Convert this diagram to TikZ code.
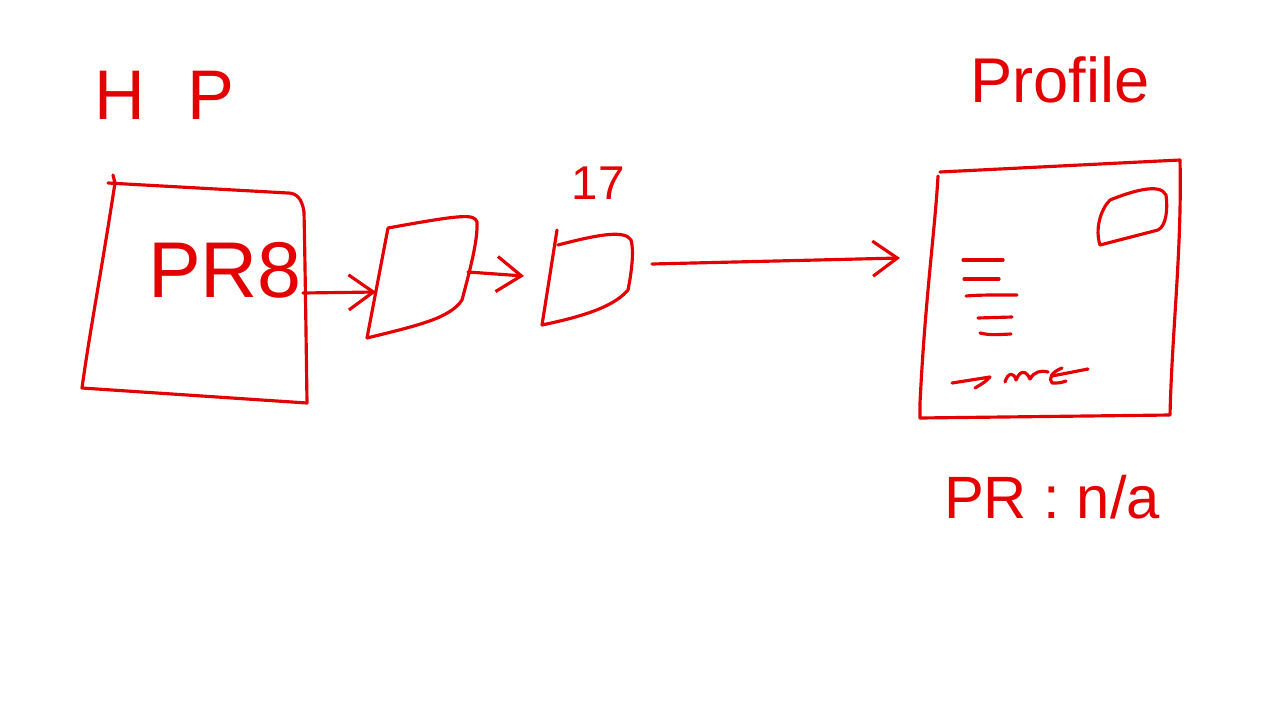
\documentclass[tikz,border=0pt]{standalone}
\usepackage{fontspec}
\setmainfont{Liberation Sans}
\usetikzlibrary{arrows.meta}
\definecolor{ink}{RGB}{228,0,0}
\begin{document}
\begin{tikzpicture}[x=0.02cm, y=-0.02cm,
	pen/.style = {draw=ink, line width=1.8pt, line cap=round, line join=round},
	arr/.style = {pen, -{Straight Barb[length=14pt, width=20pt, line width=1.8pt]}},
	word/.style = {text=ink, inner sep=0pt, font=\fontsize{#1}{#1}\selectfont}]
	\fill[white] (0,0) rectangle (1280,720);
	\useasboundingbox (0,0) rectangle (1280,720);

	% labels
	\node[word=40] (hp) at (164,95) {H\hspace{24pt}P};
	\node[word=45] (pr8) at (225,270) {PR8};
	\node[word=27] (seventeen) at (598,183) {17};
	\node[word=36] (profile) at (1060,80) {Profile};
	\node[word=34] (prna) at (1052,497) {PR : n/a};

	% HP box
	\draw[pen] (113,175) -- (115,183) .. controls (100,280) and (90,330) .. (82,388)
		-- (307,403) .. controls (306,330) and (305,260) .. (304,212)
		.. controls (302,198) and (296,193) .. (288,193) -- (108,183);
	\coordinate (hpE) at (303,293);

	% second box
	\draw[pen] (388,228) -- (367,338) .. controls (420,325) and (450,318) .. (462,300)
		.. controls (470,270) and (478,240) .. (477,222)
		.. controls (474,214) and (465,214) .. (388,228);
	\coordinate (b2W) at (376,292);
	\coordinate (b2E) at (468,272);

	% third box
	\draw[pen] (557,230) -- (542,325) .. controls (590,315) and (615,305) .. (628,290)
		.. controls (632,270) and (634,250) .. (631,240)
		.. controls (625,230) and (600,234) .. (558,245);
	\coordinate (b3W) at (524,276);
	\coordinate (b3E) at (652,264);

	% profile card
	\draw[pen] (940,172) -- (1180,160) .. controls (1182,250) and (1172,330) .. (1170,415)
		-- (920,418) -- (920,403) .. controls (925,300) and (935,230) .. (938,176);
	\coordinate (pfW) at (900,258);
	\draw[pen] (1110,200) .. controls (1130,192) and (1160,182) .. (1166,195)
		.. controls (1168,210) and (1166,226) .. (1158,230)
		-- (1100,245) .. controls (1095,230) and (1100,210) .. (1110,200);
	\draw[pen] (963,260) -- (1003,260);
	\draw[pen] (964,279) -- (999,279);
	\draw[pen] (966,296) .. controls (980,295) .. (1017,295);
	\draw[pen] (978,318) -- (1012,317);
	\draw[pen] (980,333) .. controls (990,335) .. (1011,334);
	% scribble line
	\draw[pen] (952,383) -- (990,377) .. controls (985,382) .. (975,388);
	\draw[pen] (1005,382) .. controls (1008,372) and (1014,372) .. (1016,380)
		.. controls (1020,370) and (1026,370) .. (1030,379)
		.. controls (1034,372) and (1040,370) .. (1048,372);
	\draw[pen] (1062,368) .. controls (1052,372) and (1048,378) .. (1052,383)
		.. controls (1060,383) .. (1066,381);
	\draw[pen] (1052,376) -- (1088,369);

	% connectors
	\draw[arr] (hpE) -- (b2W);
	\draw[arr] (b2E) -- (b3W);
	\draw[arr] (b3E) -- (pfW);
\end{tikzpicture}
\end{document}
